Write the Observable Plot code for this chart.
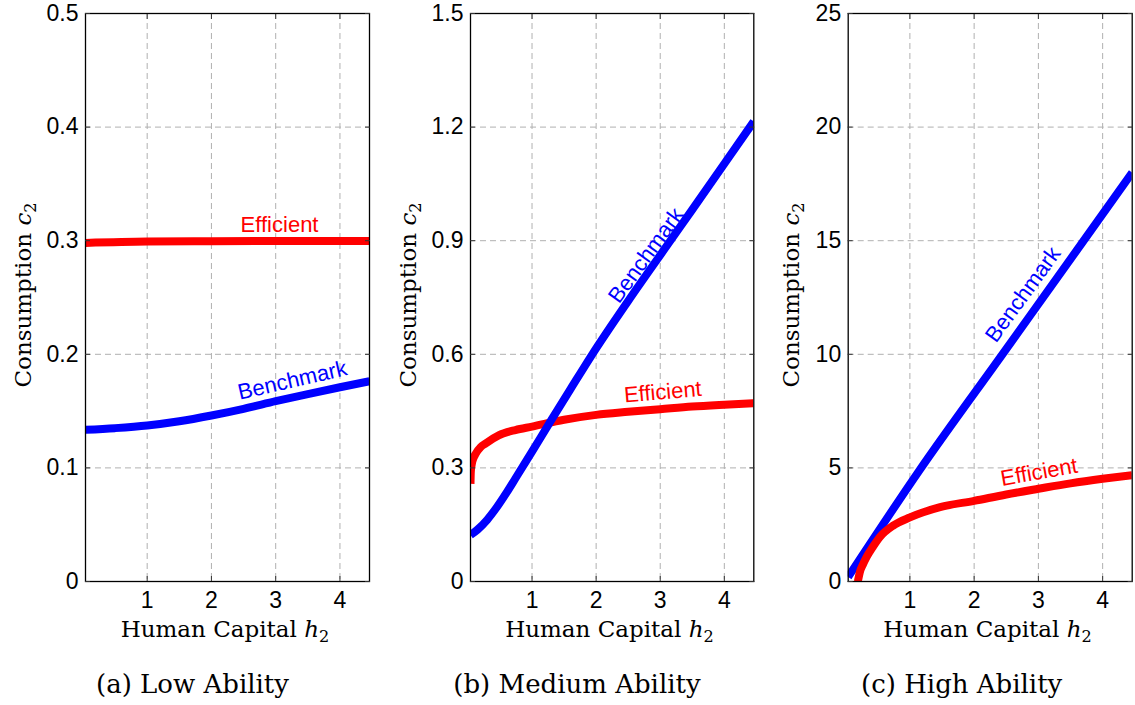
<!DOCTYPE html>
<html>
<head>
<meta charset="utf-8">
<script src="https://cdn.jsdelivr.net/npm/d3@7"></script>
<script src="https://cdn.jsdelivr.net/npm/@observablehq/plot@0.6"></script>
<style>
  body { margin: 0; background: #fff; }
  #fig { position: relative; width: 1135px; height: 705px; background: #fff; overflow: hidden; }
  .panel { position: absolute; top: 0; }
  .serif { position: absolute; font-family: "DejaVu Serif", "Liberation Serif", serif; color: #000; white-space: nowrap; text-align: center; }
  .ytitle { width: 260px; height: 26px; font-size: 23px; line-height: 26px; transform: rotate(-90deg); transform-origin: 50% 50%; }
  .xtitle { width: 300px; font-size: 23px; line-height: 23px; }
  .cap { width: 340px; font-size: 26px; line-height: 26px; }
  sub { font-size: 0.7em; vertical-align: -0.28em; line-height: 0; }
</style>
</head>
<body>
<div id="fig"></div>
<script>
// ---------- data ----------
const xTicks = [1, 2, 3, 4];
const xDomain = [0.04, 4.46];

const yTicksLow = [0, 0.1, 0.2, 0.3, 0.4, 0.5];
const yTicksMed = [0, 0.3, 0.6, 0.9, 1.2, 1.5];
const yTicksHigh = [0, 5, 10, 15, 20, 25];

// Low ability
const hLowEff = [0.04, 1, 2, 3, 4, 4.46];
const cLowEff = [0.298, 0.2992, 0.2995, 0.2997, 0.2998, 0.2998];
const hLowBen = [0.04, 0.5, 1, 1.5, 2, 2.5, 3, 3.5, 4, 4.46];
const cLowBen = [0.1335, 0.135, 0.1373, 0.141, 0.1461, 0.152, 0.1587, 0.165, 0.171, 0.1763];

// Medium ability
const hMedEff = [0.04, 0.045, 0.06, 0.09, 0.12, 0.2, 0.27, 0.48, 0.74, 1.0, 1.5, 2, 2.5, 3, 3.5, 4, 4.46];
const cMedEff = [0.258, 0.29, 0.31, 0.327, 0.337, 0.355, 0.364, 0.386, 0.40, 0.409, 0.427, 0.44, 0.448, 0.455, 0.462, 0.467, 0.471];
const hMedBen = [0.04, 0.15, 0.3, 0.45, 0.6, 0.74, 1.0, 1.285, 1.6, 1.94, 2.5, 3.18, 3.5, 4.0, 4.46];
const cMedBen = [0.123, 0.137, 0.163, 0.196, 0.234, 0.272, 0.343, 0.422, 0.508, 0.6, 0.741, 0.905, 0.982, 1.103, 1.215];

// High ability
const hHighEff = [0.19, 0.22, 0.27, 0.325, 0.43, 0.53, 0.74, 1.0, 1.47, 2.0, 2.5, 3.0, 3.5, 4.0, 4.46];
const cHighEff = [0.0, 0.4, 0.75, 1.07, 1.55, 1.95, 2.46, 2.82, 3.27, 3.55, 3.83, 4.08, 4.32, 4.52, 4.68];
const hHighBen = [0.04, 1.15, 2.44, 3.73, 4.46];
const cHighBen = [0.2, 4.9, 10.0, 15.1, 18.0];

// series labels: [h, c, rotation]
const lblLowEff = [3.06, 0.314, 0];
const lblLowBen = [3.26, 0.177, -13];
const lblMedEff = [3.04, 0.50, -5];
const lblMedBen = [2.78, 0.861, -54];
const lblHighEff = [3.01, 4.81, -10];
const lblHighBen = [2.76, 12.63, -54];

const seriesNames = ["Efficient", "Benchmark"];
const colors = ["#ff0000", "#0000ff"];
const xTitle = "Human Capital";
const yTitle = "Consumption";
const captions = ["(a) Low Ability", "(b) Medium Ability", "(c) High Ability"];

// ---------- build ----------
const zip = (hs, cs) => hs.map((h, i) => ({h, c: cs[i]}));

const panels = [
  {left: 0, width: 380, mL: 85, mR: 11, yTicks: yTicksLow,
   eff: zip(hLowEff, cLowEff), ben: zip(hLowBen, cLowBen), lEff: lblLowEff, lBen: lblLowBen, redOnTop: true,
   yt: 23, xt: 225, cap: 192.5},
  {left: 380, width: 380, mL: 90, mR: 6.7, yTicks: yTicksMed,
   eff: zip(hMedEff, cMedEff), ben: zip(hMedBen, cMedBen), lEff: lblMedEff, lBen: lblMedBen, redOnTop: false,
   yt: 408, xt: 609.5, cap: 577},
  {left: 760, width: 375, mL: 87.7, mR: 3.3, yTicks: yTicksHigh,
   eff: zip(hHighEff, cHighEff), ben: zip(hHighBen, cHighBen), lEff: lblHighEff, lBen: lblHighBen, redOnTop: true,
   yt: 791, xt: 987.5, cap: 961.7}
];

const fig = document.getElementById("fig");
const H = 620, mT = 13, mB = 39;
const fmt = d3.format("~g");
const sans = "'Liberation Sans', Arial, Helvetica, sans-serif";

panels.forEach((p, k) => {
  const yDomain = [p.yTicks[0], p.yTicks[p.yTicks.length - 1]];
  const lineOpts = {x: "h", y: "c", strokeWidth: 8, strokeLinecap: "butt", strokeLinejoin: "round", curve: "monotone-x", clip: true};
  const lineEff = Plot.line(p.eff, {...lineOpts, stroke: colors[0]});
  const lineBen = Plot.line(p.ben, {...lineOpts, stroke: colors[1]});
  const lblE = Plot.text([p.lEff], {x: d => d[0], y: d => d[1], rotate: p.lEff[2], text: () => seriesNames[0],
    fill: colors[0], fontSize: 22, fontFamily: sans, textAnchor: "middle", lineAnchor: "middle"});
  const lblB = Plot.text([p.lBen], {x: d => d[0], y: d => d[1], rotate: p.lBen[2], text: () => seriesNames[1],
    fill: colors[1], fontSize: 22, fontFamily: sans, textAnchor: "middle", lineAnchor: "middle"});
  const grid = {stroke: "#b0b0b0", strokeOpacity: 1, strokeWidth: 1, strokeDasharray: "6,4"};
  const chart = Plot.plot({
    width: p.width, height: H,
    marginLeft: p.mL, marginRight: p.mR, marginTop: mT, marginBottom: mB,
    x: {domain: xDomain, label: null},
    y: {domain: yDomain, label: null},
    style: {fontFamily: sans, fontSize: "23px", color: "#000", background: "transparent", overflow: "visible"},
    marks: [
      Plot.gridX(xTicks, grid),
      Plot.gridY(p.yTicks, grid),
      ...(p.redOnTop ? [lineBen, lineEff] : [lineEff, lineBen]),
      Plot.frame({stroke: "#000", strokeWidth: 1.3}),
      Plot.axisY(p.yTicks, {anchor: "left", tickSize: -5, fill: "none", stroke: "#333", label: null}),
      Plot.axisY(p.yTicks, {anchor: "right", tickSize: -5, fill: "none", stroke: "#333", label: null}),
      Plot.axisX(xTicks, {anchor: "bottom", tickSize: -5, fill: "none", stroke: "#333", label: null}),
      Plot.axisX(xTicks, {anchor: "top", tickSize: -5, fill: "none", stroke: "#333", label: null}),
      Plot.axisY(p.yTicks, {anchor: "left", tickSize: 0, tickPadding: 7, tickFormat: fmt, fontSize: 23, fill: "#000", label: null}),
      Plot.axisX(xTicks, {anchor: "bottom", tickSize: 0, tickPadding: 10, tickFormat: fmt, fontSize: 23, fill: "#000", label: null}),
      lblE, lblB
    ]
  });
  chart.classList.add("panel");
  chart.style.left = p.left + "px";
  fig.appendChild(chart);

  const yt = document.createElement("div");
  yt.className = "serif ytitle";
  yt.style.left = (p.yt - 130) + "px";
  yt.style.top = (295 - 13) + "px";
  yt.innerHTML = yTitle + " <i>c</i><sub>2</sub>";
  fig.appendChild(yt);

  const xt = document.createElement("div");
  xt.className = "serif xtitle";
  xt.style.left = (p.xt - 150) + "px";
  xt.style.top = "618px";
  xt.innerHTML = xTitle + " <i>h</i><sub>2</sub>";
  fig.appendChild(xt);

  const cp = document.createElement("div");
  cp.className = "serif cap";
  cp.style.left = (p.cap - 170) + "px";
  cp.style.top = "671px";
  cp.textContent = captions[k];
  fig.appendChild(cp);
});
</script>
</body>
</html>
